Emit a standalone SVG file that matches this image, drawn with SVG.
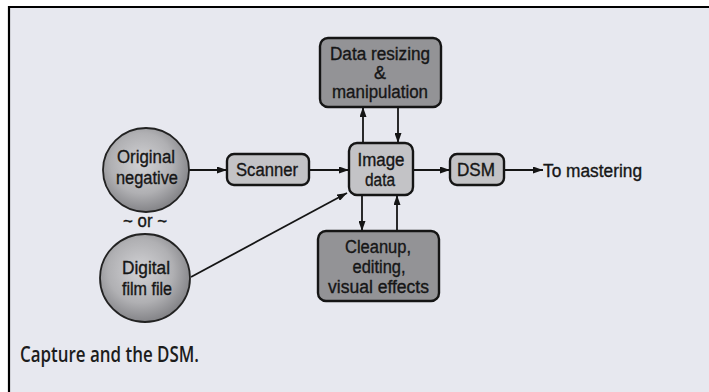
<svg xmlns="http://www.w3.org/2000/svg" width="709" height="392" viewBox="0 0 709 392">
  <style>
    .lbl { font-family: "Liberation Sans", Arial, sans-serif; font-size: 18px; fill: #161616; stroke: #161616; stroke-width: 0.35; text-anchor: middle; }
    .box-light { fill: #c3c3c6; stroke: #151515; stroke-width: 2.4; }
    .box-dark { fill: #939396; stroke: #151515; stroke-width: 2.4; }
    .disc { fill: url(#discFill); stroke: #222; stroke-width: 1.8; }
    .wire { stroke: #151515; stroke-width: 1.8; fill: none; marker-end: url(#head); }
    .caption { font-family: "Open Sans", "Noto Sans", sans-serif; font-size: 21px; font-weight: 600; fill: #1c1c1c; }
  </style>
  <defs>
    <radialGradient id="discFill" cx="0.45" cy="0.42" r="0.6">
      <stop offset="0" stop-color="#d2d2d5"/>
      <stop offset="0.6" stop-color="#b0b0b3"/>
      <stop offset="1" stop-color="#808084"/>
    </radialGradient>
    <marker id="head" markerUnits="userSpaceOnUse" markerWidth="10" markerHeight="7" refX="10" refY="3.5" orient="auto">
      <path d="M0,0 L10,3.5 L0,7 z" fill="#151515"/>
    </marker>
  </defs>

  <!-- page and frame -->
  <rect x="0" y="0" width="709" height="392" fill="#ffffff"/>
  <rect x="9" y="7" width="700" height="385" fill="#e7e8ef"/>
  <line x1="8" y1="7" x2="709" y2="7" stroke="#000" stroke-width="2.2"/>
  <line x1="9" y1="6" x2="9" y2="392" stroke="#000" stroke-width="2.2"/>

  <!-- connectors -->
  <g id="connectors">
    <line class="wire" x1="189" y1="170" x2="227" y2="170"/>
    <line class="wire" x1="309" y1="170" x2="349" y2="170"/>
    <line class="wire" x1="413" y1="170" x2="450" y2="170"/>
    <line class="wire" x1="504" y1="170" x2="543" y2="170"/>
    <line class="wire" x1="191" y1="277" x2="347" y2="193"/>
    <line class="wire" x1="363" y1="143" x2="363" y2="107"/>
    <line class="wire" x1="398" y1="107" x2="398" y2="143"/>
    <line class="wire" x1="362" y1="195" x2="362" y2="231"/>
    <line class="wire" x1="397" y1="231" x2="397" y2="195"/>
  </g>

  <g id="original-negative">
    <ellipse class="disc" cx="146" cy="170" rx="43" ry="42"/>
    <text class="lbl" x="146" y="163" textLength="58" lengthAdjust="spacingAndGlyphs">Original</text>
    <text class="lbl" x="147" y="184" textLength="62" lengthAdjust="spacingAndGlyphs">negative</text>
  </g>

  <g id="or-label">
    <text class="lbl" x="145" y="227" textLength="44" lengthAdjust="spacingAndGlyphs">~ or ~</text>
  </g>

  <g id="digital-film-file">
    <ellipse class="disc" cx="145" cy="278" rx="45" ry="44"/>
    <text class="lbl" x="146" y="274" textLength="48" lengthAdjust="spacingAndGlyphs">Digital</text>
    <text class="lbl" x="147" y="295" textLength="50" lengthAdjust="spacingAndGlyphs">film file</text>
  </g>

  <g id="scanner">
    <rect class="box-light" x="227" y="154" width="82" height="31" rx="7"/>
    <text class="lbl" x="267" y="176" textLength="62" lengthAdjust="spacingAndGlyphs">Scanner</text>
  </g>

  <g id="image-data">
    <rect class="box-light" x="349" y="143" width="64" height="52" rx="8"/>
    <text class="lbl" x="381" y="166" textLength="47" lengthAdjust="spacingAndGlyphs">Image</text>
    <text class="lbl" x="380" y="186" textLength="30" lengthAdjust="spacingAndGlyphs">data</text>
  </g>

  <g id="dsm">
    <rect class="box-light" x="450" y="154" width="54" height="31" rx="7"/>
    <text class="lbl" x="476" y="176" textLength="38" lengthAdjust="spacingAndGlyphs">DSM</text>
  </g>

  <g id="to-mastering">
    <text class="lbl" x="543" y="177" style="text-anchor: start" textLength="99" lengthAdjust="spacingAndGlyphs">To mastering</text>
  </g>

  <g id="data-resizing">
    <rect class="box-dark" x="320" y="38" width="121" height="69" rx="8"/>
    <text class="lbl" x="380" y="60" textLength="100" lengthAdjust="spacingAndGlyphs">Data resizing</text>
    <text class="lbl" x="380" y="79">&amp;</text>
    <text class="lbl" x="380" y="98" textLength="96" lengthAdjust="spacingAndGlyphs">manipulation</text>
  </g>

  <g id="cleanup">
    <rect class="box-dark" x="318" y="231" width="121" height="70" rx="8"/>
    <text class="lbl" x="378" y="253" textLength="66" lengthAdjust="spacingAndGlyphs">Cleanup,</text>
    <text class="lbl" x="379" y="273" textLength="53" lengthAdjust="spacingAndGlyphs">editing,</text>
    <text class="lbl" x="378.5" y="293" textLength="101" lengthAdjust="spacingAndGlyphs">visual effects</text>
  </g>

  <text class="caption" x="20" y="362" textLength="179" lengthAdjust="spacingAndGlyphs">Capture and the DSM.</text>
</svg>
